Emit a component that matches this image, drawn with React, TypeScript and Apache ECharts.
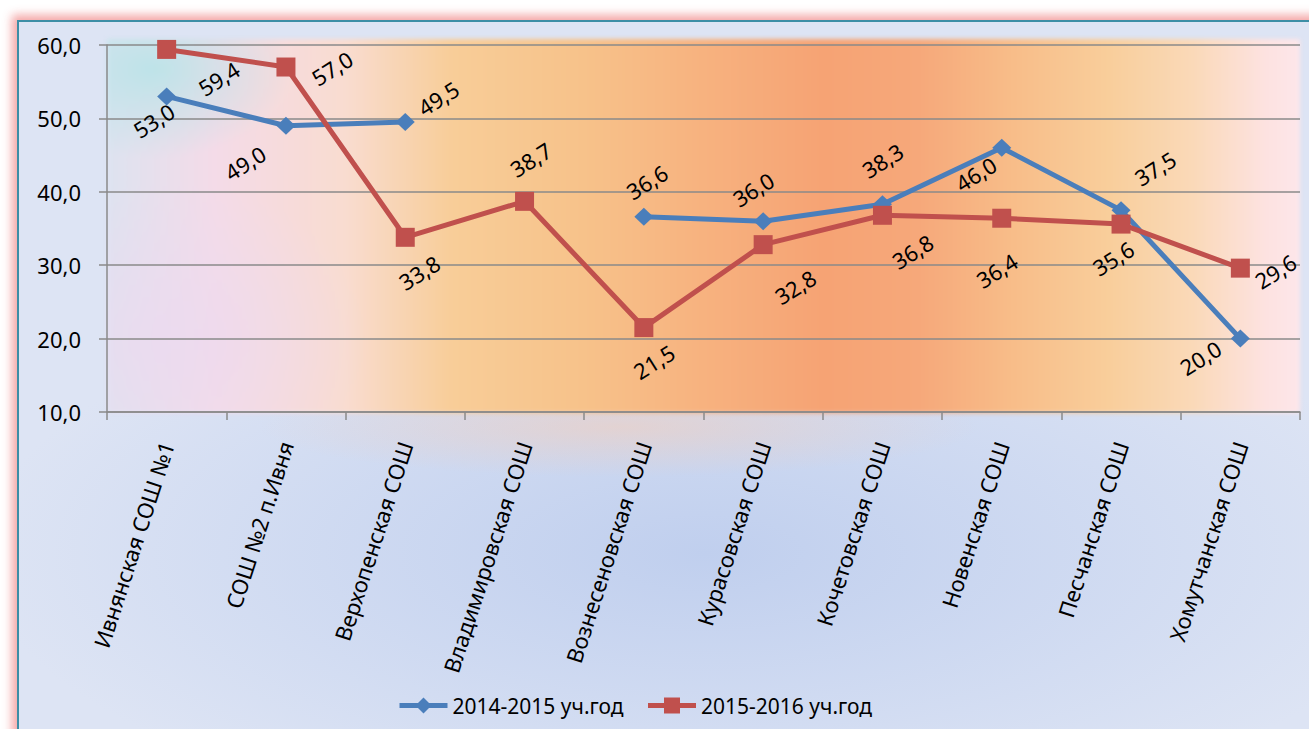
import React, { useEffect, useRef } from "react";
import * as echarts from "echarts";

// ---- data ----
const categories: string[] = [
  "Ивнянская СОШ №1",
  "СОШ №2 п.Ивня",
  "Верхопенская СОШ",
  "Владимировская СОШ",
  "Вознесеновская СОШ",
  "Курасовская СОШ",
  "Кочетовская СОШ",
  "Новенская СОШ",
  "Песчанская СОШ",
  "Хомутчанская СОШ",
];
const values2014: (number | null)[] = [53.0, 49.0, 49.5, null, 36.6, 36.0, 38.3, 46.0, 37.5, 20.0];
const values2015: number[] = [59.4, 57.0, 33.8, 38.7, 21.5, 32.8, 36.8, 36.4, 35.6, 29.6];
const seriesNames: string[] = ["2014-2015 уч.год", "2015-2016 уч.год"];
const yMin = 10;
const yMax = 60;
const yStep = 10;

// ---- label placement (screen px offset of label centre from marker centre) ----
const labelOffsets2014: ([number, number] | null)[] = [
  [-13, 24], [-41, 37], [33, -24], null, [3, -35], [-10, -32], [0, -44], [-26, 26], [34, -42], [-40, 19],
];
const labelOffsets2015: [number, number][] = [
  [52, 29], [46, 1], [14, 35], [6, -42], [10, 34], [32, 42], [30, 36], [-5, 52], [-8, 34], [35, 3],
];

const LABEL_ROTATE = 32;
const FONT = '"Noto Sans", sans-serif';
const BLUE = "#4a7ebb";
const RED = "#c0504d";
const GRID_GRAY = "#8a8a8a";

function toLocal(d: [number, number]): [number, number] {
  const t = (LABEL_ROTATE * Math.PI) / 180;
  const c = Math.cos(t);
  const s = Math.sin(t);
  return [c * d[0] - s * d[1], s * d[0] + c * d[1]];
}
const fmt = (v: number) => Number(v).toFixed(1).replace(".", ",");

export default function App() {
  const ref = useRef<HTMLDivElement>(null);

  useEffect(() => {
    if (!ref.current) return;
    const chart = echarts.init(ref.current, null, { renderer: "svg" });

    const labelBase = {
      show: true,
      position: "inside",
      rotate: LABEL_ROTATE,
      fontSize: 22,
      color: "#000",
      fontFamily: FONT,
      formatter: (p: any) => fmt(p.value),
    };

    const option: any = {
      animation: false,
      backgroundColor: "transparent",
      textStyle: { fontFamily: FONT },
      grid: { left: 107, right: 9, top: 45, bottom: 317, containLabel: false },
      legend: {
        data: seriesNames,
        left: 392,
        top: 690,
        itemWidth: 48,
        itemHeight: 20,
        itemGap: 22,
        lineStyle: { width: 5 },
        textStyle: { fontSize: 21, color: "#000", fontFamily: FONT },
      },
      xAxis: {
        type: "category",
        data: categories,
        boundaryGap: true,
        axisLine: { show: true, lineStyle: { color: GRID_GRAY, width: 1.5 } },
        axisTick: { show: true, length: 8, lineStyle: { color: GRID_GRAY, width: 1.5 } },
        axisLabel: {
          rotate: 72,
          margin: 30,
          fontSize: 22,
          color: "#000",
          interval: 0,
          fontFamily: FONT,
          padding: [13, 0, 0, 0],
        },
      },
      yAxis: {
        type: "value",
        min: yMin,
        max: yMax,
        interval: yStep,
        axisLine: { show: true, lineStyle: { color: GRID_GRAY, width: 1.5 } },
        axisTick: { show: true, length: 8, lineStyle: { color: GRID_GRAY, width: 1.5 } },
        splitLine: { show: true, lineStyle: { color: GRID_GRAY, width: 1.5 } },
        axisLabel: { fontSize: 22, color: "#000", margin: 26, fontFamily: FONT, formatter: (v: number) => fmt(v) },
      },
      series: [
        {
          name: seriesNames[0],
          type: "line",
          connectNulls: false,
          symbol: "diamond",
          symbolSize: [19, 18],
          lineStyle: { width: 5, color: BLUE },
          itemStyle: { color: BLUE },
          label: labelBase,
          data: values2014.map((v, i) =>
            v == null ? "-" : { value: v, label: { offset: toLocal(labelOffsets2014[i] as [number, number]) } }
          ),
        },
        {
          name: seriesNames[1],
          type: "line",
          symbol: "rect",
          symbolSize: 19,
          lineStyle: { width: 5, color: RED },
          itemStyle: { color: RED },
          label: labelBase,
          data: values2015.map((v, i) => ({ value: v, label: { offset: toLocal(labelOffsets2015[i]) } })),
        },
      ],
    };

    chart.setOption(option);
    return () => chart.dispose();
  }, []);

  return (
    <div
      style={{
        position: "fixed",
        left: 0,
        top: 0,
        width: 1309,
        height: 729,
        overflow: "hidden",
        background: "#ffffff",
      }}
    >
      <div
        style={{
          position: "absolute",
          left: 17,
          top: 20,
          width: 1320,
          height: 740,
          boxSizing: "border-box",
          borderLeft: "2px solid #3d8ea6",
          borderTop: "2px solid #3d8ea6",
          boxShadow: "0 0 9px 5px rgba(242,150,150,0.85)",
          background:
            "radial-gradient(ellipse 360px 50px at 600px 405px, rgba(244,205,185,0.55), rgba(244,205,185,0) 100%), " +
            "radial-gradient(ellipse 55% 38% at 52% 72%, rgba(192,207,238,1) 0%, rgba(200,213,240,0.7) 50%, rgba(221,228,244,0) 100%), #dde4f4",
        }}
      />
      <div
        style={{
          position: "absolute",
          left: 107,
          top: 39,
          width: 1193,
          height: 374,
          filter: "blur(2px)",
          background:
            "radial-gradient(ellipse 140px 90px at 45px 30px, rgba(185,228,232,0.9), rgba(185,228,232,0) 100%), " +
            "radial-gradient(ellipse 200px 160px at 60px 300px, rgba(236,218,240,0.8), rgba(236,218,240,0) 100%), " +
            "linear-gradient(to right, #dde3f0 0%, #f4dbe8 9%, #f9dcd0 20%, #f8cd98 29%, #f7c28a 40%, #f7b27f 50%, #f6a374 60%, #f6a87a 68%, #f8bd89 76%, #f9ce9b 84%, #fad9b8 91%, #fde2e0 97%, #fde6ea 100%)",
        }}
      />
      <div ref={ref} style={{ position: "absolute", left: 0, top: 0, width: 1309, height: 729 }} />
    </div>
  );
}
